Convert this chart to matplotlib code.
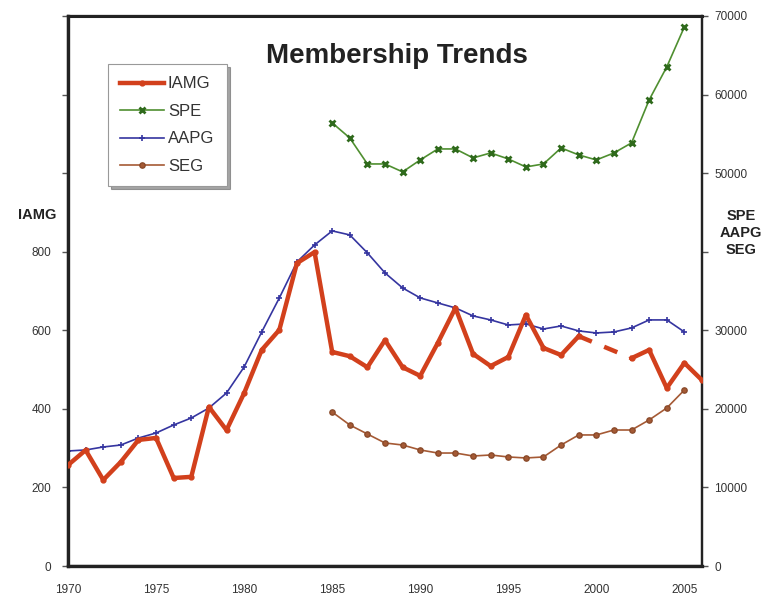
import numpy as np
import matplotlib
matplotlib.use("Agg")
import matplotlib.pyplot as plt

plt.rcParams['font.family'] = ['Liberation Sans', 'DejaVu Sans']

# IAMG membership (left axis), 1970-2006; 2000-2001 missing
iamg_years = list(range(1970, 2007))
iamg = [257, 295, 219, 265, 321, 326, 224, 227, 405, 346,
        440, 550, 601, 771, 799, 545, 534, 506, 575, 506,
        484, 568, 657, 540, 509, 532, 639, 555, 537, 585,
        np.nan, np.nan, 529, 550, 453, 517, 473]

# AAPG membership (right axis), 1970-2005
aapg_years = list(range(1970, 2006))
aapg = [14640, 14770, 15150, 15400, 16290, 16930, 17950, 18840, 20110, 22020,
        25330, 29790, 34120, 38700, 40860, 42650, 42140, 39850, 37300, 35390,
        34120, 33480, 32850, 31830, 31320, 30680, 30810, 30170, 30550, 29920,
        29660, 29790, 30300, 31320, 31320, 29790]

# SPE and SEG membership (right axis), 1985-2005
soc_years = list(range(1985, 2006))
spe = [56400, 54480, 51170, 51170, 50160, 51680, 53080, 53080, 51940, 52570,
       51810, 50790, 51170, 53210, 52320, 51680, 52570, 53850, 59320, 63520,
       68610]
seg = [19600, 17950, 16800, 15660, 15400, 14770, 14380, 14380, 14000, 14130,
       13880, 13750, 13880, 15400, 16680, 16680, 17310, 17310, 18590, 20110,
       22400]

left_ticks = [0, 200, 400, 600, 800, 1000, 1200, 1400]
left_labels = ['0', '200', '400', '600', '800', '', '', '']
right_ticks = [0, 10000, 20000, 30000, 40000, 50000, 60000, 70000]
right_labels = ['0', '10000', '20000', '30000', '', '50000', '60000', '70000']
x_ticks = [1970, 1975, 1980, 1985, 1990, 1995, 2000, 2005]

c_iamg = '#d2401c'
c_spe = '#4f8f30'
c_aapg = '#3535a0'
c_seg = '#a55a35'

fig = plt.figure(figsize=(7.72, 5.97), dpi=100)
ax = fig.add_axes([0.0881, 0.0519, 0.8212, 0.9213])
ax2 = ax.twinx()

# dashed bridge over the missing IAMG years
yrs = np.array(iamg_years)
vals = np.array(iamg, dtype=float)
ok = ~np.isnan(vals)
i0 = np.where(~ok)[0][0] - 1
i1 = np.where(~ok)[0][-1] + 1
ax.plot([yrs[i0], yrs[i1]], [vals[i0], vals[i1]], color=c_iamg, lw=3.2,
        ls=(0, (3.2, 3.0)), zorder=3)

ax2.plot(aapg_years, aapg, color=c_aapg, lw=1.2, marker='+', ms=5, mew=1.2,
         label='AAPG', zorder=2)
ax2.plot(soc_years, spe, color=c_spe, lw=1.2, marker='x', ms=4.5, mew=2.0,
         mec='#2f6a1c', label='SPE', zorder=2)
ax2.plot(soc_years, seg, color=c_seg, lw=1.2, marker='o', ms=3.8,
         mec='#8a4a2a', label='SEG', zorder=2)
ax.plot(iamg_years, iamg, color=c_iamg, lw=3.2, marker='o', ms=3.5,
        label='IAMG', zorder=4)

ax.set_zorder(ax2.get_zorder() + 1)
ax.patch.set_visible(False)

ax.set_xlim(1970, 2006)
ax.set_ylim(0, 1400)
ax2.set_ylim(0, 70000)
ax.set_xticks(x_ticks)
ax.set_yticks(left_ticks)
ax.set_yticklabels(left_labels)
ax2.set_yticks(right_ticks)
ax2.set_yticklabels(right_labels)

tick_kw = dict(labelsize=8.5, labelcolor='#333333', color='#555555')
ax.tick_params(axis='x', length=0, pad=13, **tick_kw)
ax.tick_params(axis='y', length=4, width=1, pad=8, **tick_kw)
ax2.tick_params(axis='y', length=4, width=1, pad=5, **tick_kw)

for a in (ax, ax2):
    for s in a.spines.values():
        s.set_color('#222222')
        s.set_linewidth(1.6)
ax.spines['left'].set_linewidth(2.4)
ax.spines['bottom'].set_linewidth(2.4)
ax.spines['top'].set_linewidth(2.2)

ax.text(0.519, 0.927, 'Membership Trends', transform=ax.transAxes,
        ha='center', va='center', fontsize=20, fontweight='bold',
        color='#222222')

fig.text(37 / 772, 1 - 215 / 597, 'IAMG', ha='center', va='center',
         fontsize=10.5, fontweight='bold', color='#222222')
fig.text(741 / 772, 1 - 233 / 597, 'SPE\nAAPG\nSEG', ha='center',
         va='center', fontsize=10.5, fontweight='bold', color='#222222',
         linespacing=1.25)

h1, l1 = ax.get_legend_handles_labels()
h2, l2 = ax2.get_legend_handles_labels()
handles = dict(zip(l1 + l2, h1 + h2))
order = ['IAMG', 'SPE', 'AAPG', 'SEG']
leg = ax.legend([handles[k] for k in order], order, loc='upper left',
                bbox_to_anchor=(0.063, 0.913), borderaxespad=0, fontsize=12,
                frameon=True, fancybox=False, shadow=True,
                edgecolor='#999999', handlelength=2.6, handletextpad=0.25,
                labelspacing=0.75, borderpad=0.75, labelcolor='#333333')
leg.get_frame().set_linewidth(0.8)

fig.savefig('out.png', dpi=100)
